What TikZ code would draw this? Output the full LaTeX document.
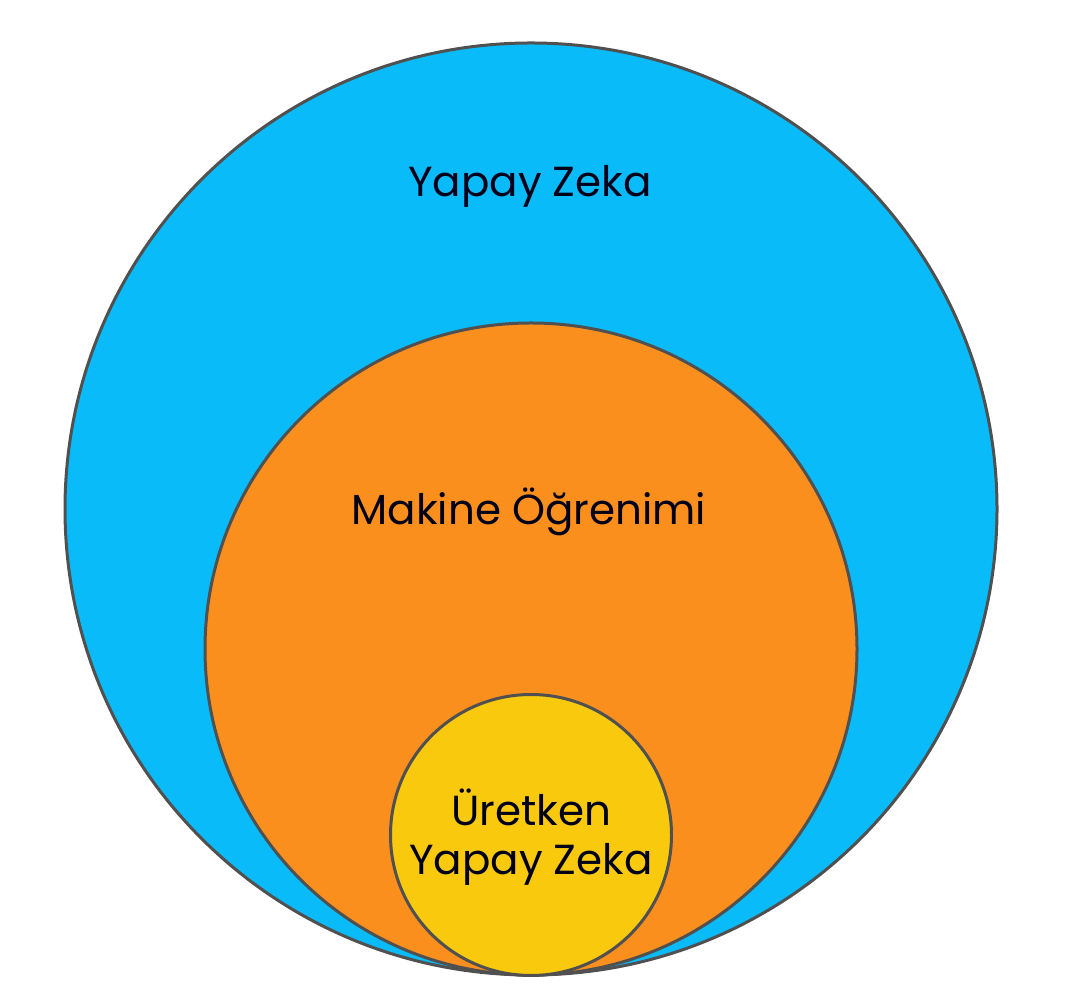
\documentclass[tikz,border=0pt]{standalone}
\usepackage{fontspec}
\setmainfont{Poppins}
\usetikzlibrary{positioning}
\definecolor{aiblue}{RGB}{10,187,250}
\definecolor{mlorange}{RGB}{250,143,30}
\definecolor{genyellow}{RGB}{248,201,12}
\definecolor{rimgray}{RGB}{80,80,80}
\tikzset{
  set/.style={circle, draw=rimgray, line width=3pt, inner sep=0pt},
  setlabel/.style={anchor=base, inner sep=0pt, text=black!90!blue, font=\fontsize{42}{50}\selectfont}
}
\begin{document}
\begin{tikzpicture}[x=1pt, y=1pt]
    \useasboundingbox[fill=white] (0,0) rectangle (1070,992);
    \node[set, fill=aiblue, minimum size=932pt] (ai) at (531,483) {};
    \node[set, fill=mlorange, minimum size=652pt] (ml) at (531,343) {};
    \node[set, fill=genyellow, minimum size=281pt] (gen) at (531,157) {};
    \node[setlabel] (ai_l) at (530,795) {Yapay Zeka};
    \node[setlabel] (ml_l) at (529,467) {Makine Öğrenimi};
    \node[setlabel] (gen_l1) at (531,166) {Üretken};
    \node[setlabel] (gen_l2) at (531,117) {Yapay Zeka};
\end{tikzpicture}
\end{document}
